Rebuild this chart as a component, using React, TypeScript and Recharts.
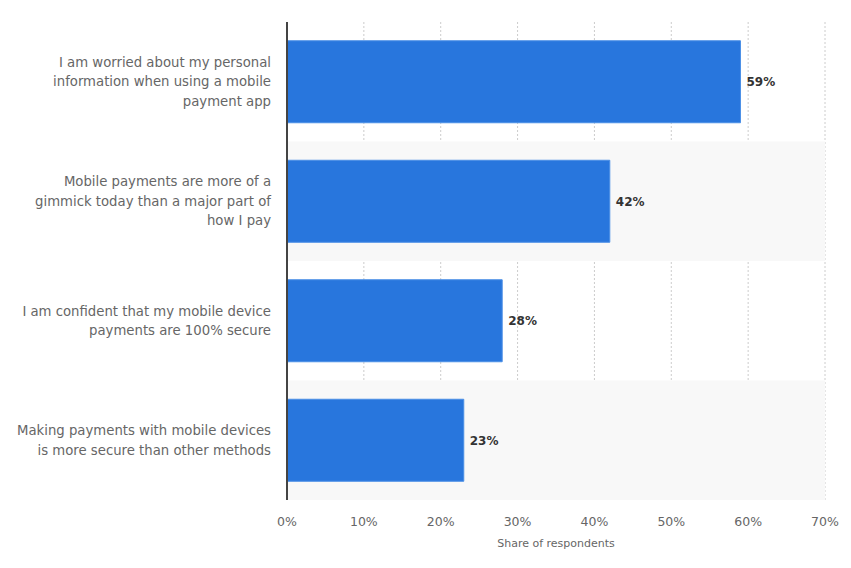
import React from "react";
import {
  BarChart,
  Bar,
  XAxis,
  YAxis,
  CartesianGrid,
  LabelList,
  ReferenceArea,
} from "recharts";

const categoryLines: string[][] = [
  ["I am worried about my personal", "information when using a mobile", "payment app"],
  ["Mobile payments are more of a", "gimmick today than a major part of", "how I pay"],
  ["I am confident that my mobile device", "payments are 100% secure"],
  ["Making payments with mobile devices", "is more secure than other methods"],
];
const categories: string[] = categoryLines.map((l) => l.join(" "));
const shares: number[] = [59, 42, 28, 23];
const xTicks: number[] = [0, 10, 20, 30, 40, 50, 60, 70];
const shadedCategories: string[] = [categories[1], categories[3]];

const data = categories.map((c, i) => ({ name: c, value: shares[i] }));

const FONT = "'DejaVu Sans', Verdana, sans-serif";

const YTick = (props: any) => {
  const { x, y, payload } = props;
  const idx = categories.indexOf(payload.value);
  const lines = idx >= 0 ? categoryLines[idx] : [String(payload.value)];
  const lh = 19.5;
  const start = y - ((lines.length - 1) * lh) / 2;
  return (
    <text
      x={x}
      y={start}
      textAnchor="end"
      fill="#666666"
      fontSize={13.25}
      fontFamily={FONT}
    >
      {lines.map((ln, i) => (
        <tspan key={i} x={x} y={start + i * lh} dy="0.35em">
          {ln}
        </tspan>
      ))}
    </text>
  );
};

export default function App() {
  return (
    <div style={{ position: "absolute", left: 0, top: 0, width: 851, height: 568, background: "#fff" }}>
      <BarChart
        width={851}
        height={568}
        data={data}
        layout="vertical"
        margin={{ top: 22, right: 26, left: 0, bottom: 18 }}
        barCategoryGap="15.7%"
      >
        {shadedCategories.map((c) => (
          <ReferenceArea key={c} y1={c} y2={c} fill="#f8f8f8" fillOpacity={1} stroke="none" ifOverflow="extendDomain" />
        ))}
        <CartesianGrid vertical horizontal={false} stroke="#cccccc" strokeDasharray="2 2" />
        <XAxis
          type="number"
          domain={[0, 70]}
          ticks={xTicks}
          tickFormatter={(v: number) => `${v}%`}
          axisLine={false}
          tickLine={false}
          tickSize={0}
          tickMargin={17}
          height={50}
          tick={{ fill: "#666666", fontSize: 12.5, fontFamily: FONT }}
          label={{
            value: "Share of respondents",
            position: "insideBottom",
            offset: 3,
            fill: "#666666",
            fontSize: 11,
            fontFamily: FONT,
          }}
        />
        <YAxis
          type="category"
          dataKey="name"
          width={287}
          axisLine={{ stroke: "#444444", strokeWidth: 2 }}
          tickLine={false}
          tickSize={0}
          tickMargin={16}
          tick={<YTick />}
          interval={0}
        />
        <Bar dataKey="value" fill="#2876dd" stroke="#4a8fe6" strokeWidth={1} isAnimationActive={false}>
          <LabelList
            dataKey="value"
            position="right"
            offset={6}
            formatter={(v: any) => `${v}%`}
            fill="#333333"
            fontSize={12}
            fontWeight={600}
            fontFamily={FONT}
          />
        </Bar>
      </BarChart>
    </div>
  );
}
